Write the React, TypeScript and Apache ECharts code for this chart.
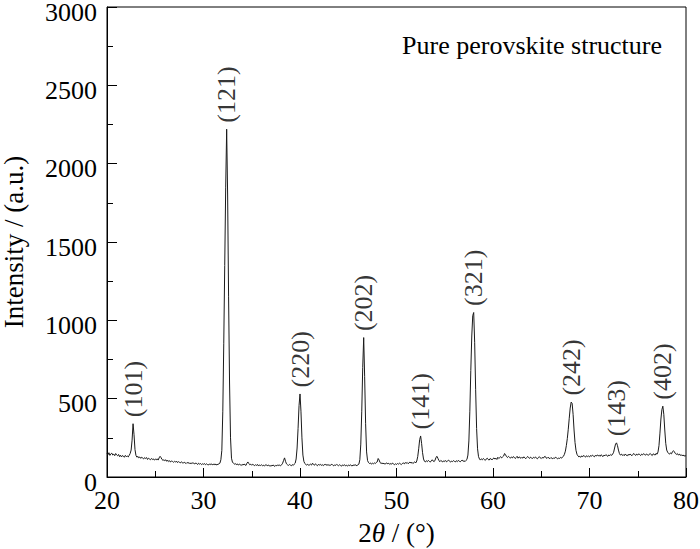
import React, { useEffect, useRef } from "react";
import * as echarts from "echarts";

// XRD scan: 2θ from 20° to 80° in 0.1° steps
const scanStart = 20;
const scanStep = 0.1;
const intensity: number[] = [
  // 20
  150, 142, 155, 138, 148, 152, 140, 146, 136, 150,
  // 21
  141, 135, 144, 130, 139, 128, 137, 133, 126, 138,
  // 22
  130, 134, 128, 138, 150, 172, 235, 340, 270, 175,
  // 23
  138, 126, 132, 122, 128, 119, 126, 121, 115, 124,
  // 24
  118, 124, 112, 120, 115, 110, 118, 112, 116, 108,
  // 25
  114, 110, 116, 108, 122, 132, 124, 112, 106, 110,
  // 26
  104, 110, 100, 107, 98, 104, 96, 102, 99, 94,
  // 27
  100, 95, 102, 92, 98, 94, 90, 97, 92, 88,
  // 28
  95, 90, 86, 93, 88, 92, 84, 90, 86, 91,
  // 29
  87, 83, 90, 85, 80, 88, 82, 86, 79, 84,
  // 30
  81, 86, 78, 84, 80, 76, 83, 79, 85, 77,
  // 31
  82, 78, 84, 76, 81, 79, 85, 88, 110, 170,
  // 32
  420, 850, 1350, 1850, 2220, 1800, 1150, 600, 250, 120,
  // 33
  95, 88, 82, 86, 78, 84, 76, 82, 79, 74,
  // 34
  80, 76, 83, 78, 74, 88, 96, 86, 78, 82,
  // 35
  75, 81, 77, 72, 79, 74, 80, 70, 77, 73,
  // 36
  78, 72, 76, 70, 75, 79, 71, 76, 73, 69,
  // 37
  74, 70, 77, 72, 68, 75, 71, 78, 73, 76,
  // 38
  72, 78, 88, 106, 122, 100, 84, 78, 74, 80,
  // 39
  76, 72, 79, 74, 82, 88, 115, 185, 310, 455,
  // 40
  530, 420, 250, 140, 100, 86, 80, 76, 82, 74,
  // 41
  78, 82, 76, 88, 80, 75, 84, 78, 72, 80,
  // 42
  76, 81, 74, 79, 73, 77, 82, 75, 80, 74,
  // 43
  79, 73, 77, 82, 75, 71, 78, 74, 80, 76,
  // 44
  72, 78, 74, 69, 77, 73, 79, 71, 75, 70,
  // 45
  76, 72, 78, 74, 70, 77, 73, 79, 75, 72,
  // 46
  78, 82, 110, 210, 420, 700, 890, 640, 340, 160,
  // 47
  105, 92, 86, 90, 82, 88, 84, 90, 86, 92,
  // 48
  96, 118, 108, 92, 86, 90, 84, 88, 82, 86,
  // 49
  90, 84, 88, 80, 86, 82, 89, 83, 78, 85,
  // 50
  80, 86, 82, 88, 84, 79, 86, 90, 84, 92,
  // 51
  87, 93, 85, 90, 96, 88, 94, 86, 92, 97,
  // 52
  90, 102, 130, 180, 238, 262, 215, 155, 115, 100,
  // 53
  96, 104, 98, 106, 100, 95, 103, 110, 102, 98,
  // 54
  108, 126, 132, 118, 104, 98, 106, 100, 96, 104,
  // 55
  99, 105, 97, 103, 108, 100, 95, 102, 98, 105,
  // 56
  100, 96, 104, 98, 106, 101, 97, 103, 108, 100,
  // 57
  104, 98, 106, 112, 140, 230, 420, 680, 900, 1030,
  // 58
  1050, 860, 560, 310, 180, 130, 115, 108, 116, 110,
  // 59
  118, 112, 106, 115, 120, 112, 108, 118, 114, 110,
  // 60
  116, 122, 114, 120, 112, 126, 118, 124, 130, 122,
  // 61
  128, 134, 150, 142, 130, 124, 132, 126, 120, 128,
  // 62
  122, 130, 126, 118, 124, 132, 120, 128, 125, 119,
  // 63
  126, 120, 129, 122, 117, 125, 131, 123, 119, 127,
  // 64
  121, 118, 126, 122, 128, 120, 116, 124, 130, 122,
  // 65
  118, 125, 120, 128, 132, 122, 119, 126, 121, 117,
  // 66
  124, 120, 116, 123, 119, 126, 121, 115, 122, 118,
  // 67
  125, 120, 128, 132, 145, 165, 200, 245, 305, 375,
  // 68
  440, 478, 470, 400, 300, 220, 170, 145, 135, 128,
  // 69
  132, 126, 135, 129, 138, 131, 127, 136, 130, 134,
  // 70
  128, 137, 132, 140, 134, 129, 138, 133, 141, 135,
  // 71
  139, 132, 142, 136, 130, 140, 135, 143, 137, 132,
  // 72
  141, 136, 144, 138, 146, 158, 185, 210, 218, 200,
  // 73
  172, 150, 140, 146, 138, 143, 136, 147, 140, 135,
  // 74
  144, 139, 147, 141, 136, 145, 150, 142, 138, 146,
  // 75
  140, 148, 143, 137, 146, 141, 149, 144, 139, 147,
  // 76
  143, 138, 146, 150, 142, 137, 148, 144, 140, 151,
  // 77
  145, 160, 200, 280, 370, 430, 452, 400, 300, 215,
  // 78
  172, 158, 150, 146, 154, 148, 162, 168, 160, 150,
  // 79
  144, 150, 140, 146, 138, 143, 135, 141, 133, 138,
  // 80
  132,
];

const peakLabels = ["(101)", "(121)", "(220)", "(202)", "(141)", "(321)", "(242)", "(143)", "(402)"];
const peakAngles = [22.7, 32.4, 40.0, 46.6, 52.5, 58.0, 68.1, 72.8, 77.6];
const peakIntensities = [340, 2220, 530, 890, 262, 1050, 478, 218, 452];

const xTicks = { min: 20, max: 80, interval: 10 };
const yTicks = { min: 0, max: 3000, interval: 500 };

const FONT = "Liberation Serif";
const serif = (size: number, extra: Record<string, unknown> = {}) => ({
  fontFamily: FONT,
  fontSize: size,
  color: "#000",
  ...extra,
});

export default function App() {
  const ref = useRef<HTMLDivElement>(null);

  useEffect(() => {
    if (!ref.current) return;
    const chart = echarts.init(ref.current, undefined, { renderer: "svg" });

    const lineData = intensity.map((v, i) => [
      +(scanStart + i * scanStep).toFixed(1),
      v,
    ]);
    const peakData = peakLabels.map((name, i) => ({
      name,
      value: [peakAngles[i], peakIntensities[i]],
    }));

    chart.setOption({
      animation: false,
      backgroundColor: "#ffffff",
      textStyle: { fontFamily: FONT, color: "#000" },
      title: {
        text: "{t|Pure perovskite structure}",
        right: 38,
        top: 32,
        padding: 0,
        textStyle: {
          fontFamily: FONT,
          fontSize: 26,
          fontWeight: "normal",
          color: "#000",
          rich: { t: serif(26) },
        },
      },
      grid: {
        left: 107,
        right: 14,
        top: 7,
        bottom: 72,
        outerBoundsMode: "none",
        containLabel: false,
        show: true,
        borderColor: "#000",
        borderWidth: 1,
        backgroundColor: "transparent",
      },
      xAxis: {
        type: "value",
        min: xTicks.min,
        max: xTicks.max,
        interval: xTicks.interval,
        name: "{n|2}{i|θ}{n| / (°)}",
        nameLocation: "middle",
        nameGap: 42,
        nameTextStyle: {
          fontFamily: FONT,
          rich: {
            n: serif(27),
            i: serif(27, { fontStyle: "italic" }),
          },
        },
        axisLine: { show: true, onZero: false, lineStyle: { color: "#000", width: 1 } },
        axisTick: { show: true, inside: true, length: 9, lineStyle: { color: "#000" } },
        minorTick: { show: true, splitNumber: 2, length: 6, lineStyle: { color: "#000" } },
        splitLine: { show: false },
        axisLabel: {
          fontFamily: FONT,
          fontSize: 26,
          color: "#000",
          margin: 10,
          formatter: (v: number) => `{a|${v}}`,
          rich: { a: serif(26) },
        },
      },
      yAxis: {
        type: "value",
        min: yTicks.min,
        max: yTicks.max,
        interval: yTicks.interval,
        name: "{n|Intensity / (a.u.)}",
        nameLocation: "middle",
        nameGap: 80,
        nameTextStyle: { fontFamily: FONT, fontSize: 27, rich: { n: serif(27) } },
        axisLine: { show: true, lineStyle: { color: "#000", width: 1 } },
        axisTick: { show: true, inside: true, length: 10, lineStyle: { color: "#000" } },
        minorTick: { show: true, splitNumber: 2, length: 6, lineStyle: { color: "#000" } },
        splitLine: { show: false },
        axisLabel: {
          fontFamily: FONT,
          fontSize: 26,
          color: "#000",
          margin: 10,
          formatter: (v: number) => `{a|${v}}`,
          rich: { a: serif(26, { lineHeight: 22, padding: [10, 0, 0, 0] }) },
        },
      },
      series: [
        {
          type: "line",
          data: lineData,
          showSymbol: false,
          symbol: "none",
          lineStyle: { color: "#1a1a1a", width: 1 },
          z: 2,
        },
        {
          type: "scatter",
          data: peakData,
          symbolSize: 1,
          itemStyle: { color: "transparent" },
          z: 3,
          label: {
            show: true,
            formatter: "{p|{b}}",
            position: "top",
            distance: 6,
            rotate: 90,
            align: "left",
            verticalAlign: "middle",
            fontFamily: FONT,
            fontSize: 26,
            color: "#000",
            rich: { p: serif(26) },
          },
        },
      ],
    });

    return () => chart.dispose();
  }, []);

  return (
    <div
      ref={ref}
      style={{ position: "fixed", left: 0, top: 0, width: 700, height: 549 }}
    />
  );
}
